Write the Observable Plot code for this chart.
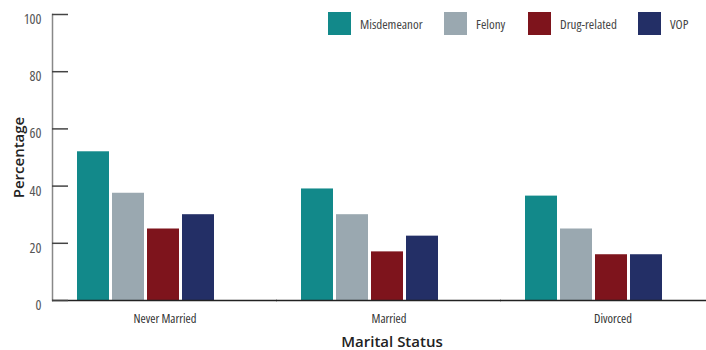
<!DOCTYPE html>
<html>
<head>
<meta charset="utf-8">
<script src="https://cdn.jsdelivr.net/npm/d3@7"></script>
<script src="https://cdn.jsdelivr.net/npm/@observablehq/plot@0.6"></script>
<style>
  html, body { margin: 0; padding: 0; background: #fff; }
  #wrap { position: relative; width: 706px; height: 350px; }
  #legend { position: absolute; left: 0; top: 12px; width: 706px; height: 24px; white-space: nowrap;
    font-family: "Open Sans", sans-serif; font-stretch: 75%; font-size: 13px; color: #444; }
  #legend .item { position: absolute; top: 0; display: flex; align-items: center; gap: 9px; }
  #legend .item:nth-child(1) { left: 328px; }
  #legend .item:nth-child(2) { left: 444px; }
  #legend .item:nth-child(3) { left: 528px; }
  #legend .item:nth-child(4) { left: 638px; }
  #legend .sw { width: 23px; height: 23px; display: inline-block; }
  svg text { font-stretch: 75%; }
  g[aria-label="y-axis label"] text, .xtitle text {
    font-family: "Open Sans", sans-serif; font-stretch: 100%; font-size: 15px; font-weight: 600; fill: #222;
  }
</style>
</head>
<body>
<div id="wrap"><div id="chart"></div><div id="legend"></div></div>
<script>
const statuses = ["Never Married", "Married", "Divorced"];
const types = ["Misdemeanor", "Felony", "Drug-related", "VOP"];
const misdemeanor = [52, 39, 36.5];
const felony = [37.5, 30, 25];
const drugRelated = [25, 17, 16];
const vop = [30, 22.5, 16];
const yTicks = [0, 20, 40, 60, 80, 100];
const colors = ["#12898a", "#9aa8b0", "#7e141c", "#232f66"];

const series = [misdemeanor, felony, drugRelated, vop];
const rows = [];
statuses.forEach((s, i) => types.forEach((t, j) => rows.push({status: s, type: t, value: series[j][i]})));

const chart = Plot.plot({
  width: 706, height: 350,
  marginLeft: 52, marginRight: 0, marginTop: 14, marginBottom: 50,
  style: {fontFamily: '"Open Sans", sans-serif', fontSize: "13px", color: "#444"},
  fx: {domain: statuses, paddingInner: 0.0933, paddingOuter: 0, align: 0},
  x: {domain: types, axis: null, paddingInner: 0.0833, paddingOuter: 0.875, align: 0.381},
  y: {domain: [0, 100]},
  color: {domain: types, range: colors},
  marks: [
    Plot.barY(rows, {fx: "status", x: "type", y: "value", fill: "type"}),
    Plot.frame({anchor: "left", stroke: "#888", strokeWidth: 1.5, facet: "super"}),
    Plot.ruleY([0], {stroke: "#222", strokeWidth: 1.5, insetRight: -22}),
    Plot.axisY(yTicks, {anchor: "left", tickSize: -16, tickFormat: () => "", label: null, stroke: "#444", strokeWidth: 1.5}),
    Plot.axisY(yTicks, {anchor: "left", tickSize: 0, tickPadding: 11, dy: 5, fill: "#555", fontSize: 14,
      label: "Percentage", labelAnchor: "center", labelArrow: "none", labelOffset: 39}),
    Plot.axisFx({anchor: "bottom", tickSize: 0, tickPadding: 14, dx: 11, fontSize: 12.5, fill: "#333", label: null}),
    Plot.text(["Marital Status"], {facet: "super", frameAnchor: "bottom", dy: 42, dx: 14, lineAnchor: "middle", className: "xtitle"})
  ]
});
document.getElementById("chart").appendChild(chart);

const legend = document.getElementById("legend");
types.forEach((t, i) => {
  const item = document.createElement("div");
  item.className = "item";
  const sw = document.createElement("span");
  sw.className = "sw";
  sw.style.background = colors[i];
  const lab = document.createElement("span");
  lab.textContent = t;
  item.appendChild(sw); item.appendChild(lab);
  legend.appendChild(item);
});
</script>
</body>
</html>
